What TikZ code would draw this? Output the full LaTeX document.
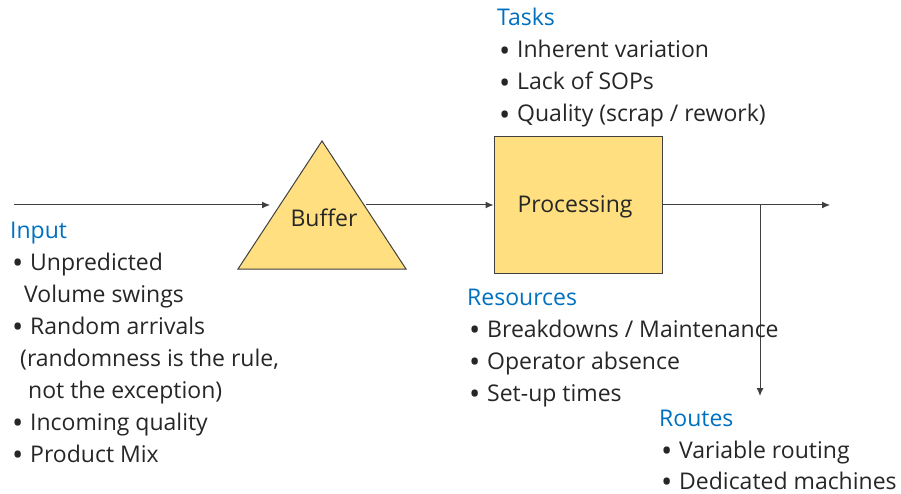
\documentclass[tikz,border=0pt]{standalone}
\usepackage{fontspec}
\setmainfont{Open Sans}
\usetikzlibrary{arrows.meta}
\definecolor{textgray}{HTML}{262626}
\definecolor{headblue}{HTML}{0070C0}
\definecolor{goldfill}{HTML}{FFDF80}
\definecolor{edgegray}{HTML}{404040}
% a list bullet with a fixed-width slot before the item text
\newcommand{\itembullet}{\makebox[20pt][l]{\hspace{2pt}\raisebox{-3.2pt}{\fontsize{30}{30}\selectfont •}}}
\begin{document}
\begin{tikzpicture}[x=1pt,y=-1pt,
  txt/.style={anchor=base west,inner sep=0pt,text=textgray,font=\fontsize{23}{26}\selectfont},
  head/.style={txt,text=headblue},
  flow/.style={draw=edgegray,line width=1pt,-{Latex[length=8pt,width=7pt]}},
  shapebox/.style={draw=edgegray,line width=1pt,fill=goldfill}]
\useasboundingbox (0,0) rectangle (901,494);

% buffer triangle
\draw[shapebox,line join=miter] (238,269) -- (322,141) -- (406,269) -- cycle;
\node[txt,anchor=center] (buffer) at (324,218) {Buffer};
\coordinate (bufIn) at (270,205);
\coordinate (bufOut) at (366,205);
\coordinate (start) at (14,205);

% processing box
\node[shapebox,minimum width=168pt,minimum height=136pt,inner sep=0pt] (proc) at (578,205) {};
\node[txt,anchor=center] (proclabel) at (575,207) {Processing};

% flow connectors
\coordinate (outEnd) at (830,205);
\coordinate (split) at (760,205);
\coordinate (routeEnd) at (760,396);
\draw[flow] (start) -- (bufIn);
\draw[flow] (bufOut) -- (proc.west);
\draw[flow] (proc.east) -- (outEnd);
\draw[flow] (split) -- (routeEnd);

% tasks
\node[head] (tasks) at (497,26) {Tasks};
\node[txt] (t1) at (497,58) {\itembullet Inherent variation};
\node[txt] (t2) at (497,90) {\itembullet Lack of SOPs};
\node[txt] (t3) at (497,122) {\itembullet Quality (scrap / rework)};

% input
\node[head] (input) at (10,238) {Input};
\node[txt] (i1) at (10,270) {\itembullet Unpredicted};
\node[txt] (i2) at (24,302) {Volume swings};
\node[txt] (i3) at (10,334) {\itembullet Random arrivals};
\node[txt] (i4) at (20,366) {(randomness is the rule,};
\node[txt] (i5) at (28,398) {not the exception)};
\node[txt] (i6) at (10,430) {\itembullet Incoming quality};
\node[txt] (i7) at (10,462) {\itembullet Product Mix};

% resources
\node[head] (res) at (467,305) {Resources};
\node[txt] (r1) at (467,337) {\itembullet Breakdowns / Maintenance};
\node[txt] (r2) at (467,369) {\itembullet Operator absence};
\node[txt] (r3) at (467,401) {\itembullet Set-up times};

% routes
\node[head] (routes) at (659,426) {Routes};
\node[txt] (ro1) at (659,458) {\itembullet Variable routing};
\node[txt] (ro2) at (659,489) {\itembullet Dedicated machines};
\end{tikzpicture}
\end{document}
